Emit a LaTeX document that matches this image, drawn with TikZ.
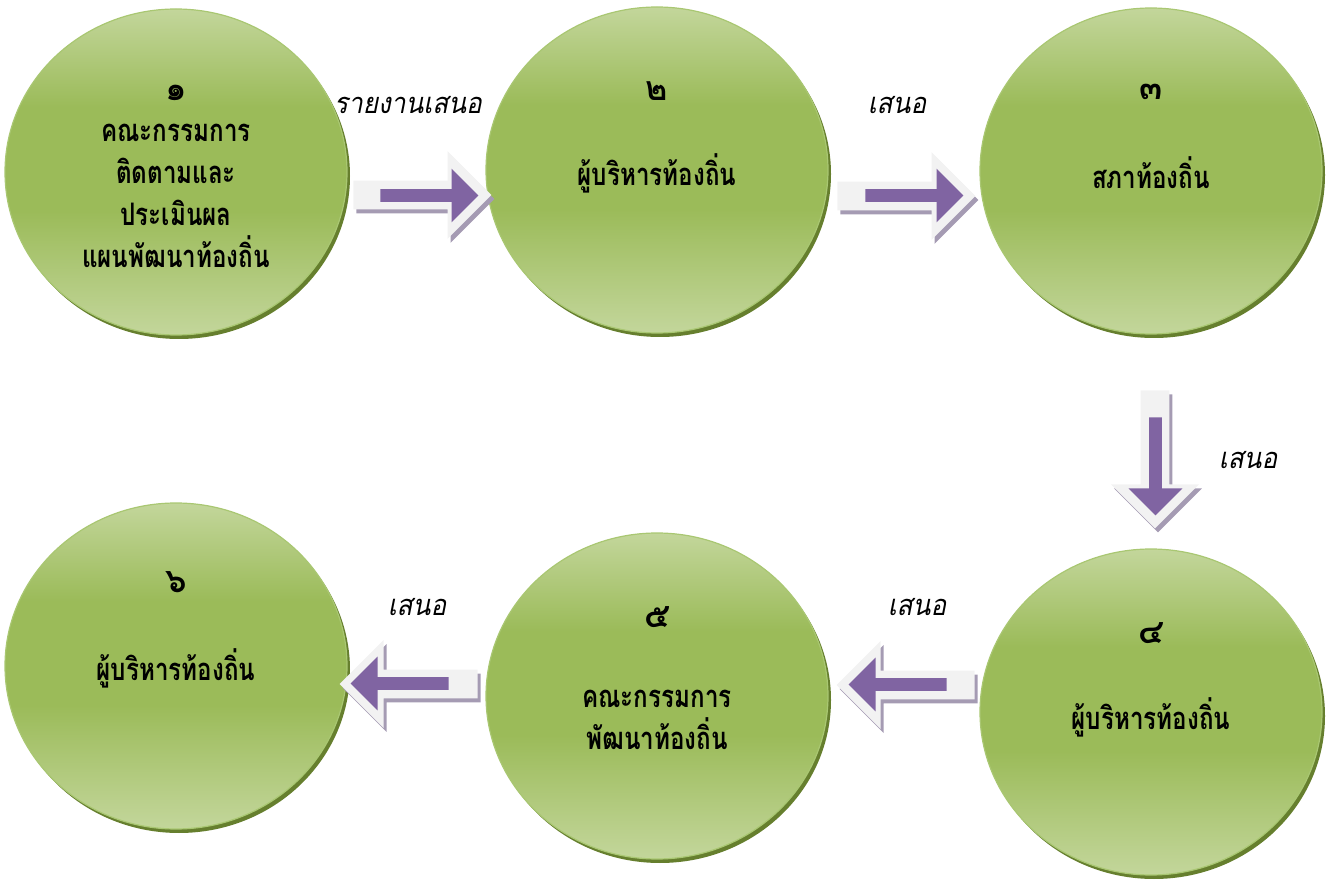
\documentclass[tikz,border=0pt]{standalone}
\usepackage{fontspec}
\newfontfamily\thaifont[Script=Thai]{Loma}
\newfontfamily\thaibody[Script=Thai,FakeStretch=0.78]{Loma}
\newfontfamily\thaislant[Script=Thai,FakeSlant=0.2,FakeStretch=0.9]{Loma}
\usepackage{tikz}
\usetikzlibrary{calc,shapes.geometric,shapes.arrows,shadows}
\definecolor{light_green}{HTML}{C3D69B}
\definecolor{mid_green}{HTML}{9BBB59}
\definecolor{edge_green}{HTML}{A9C772}
\definecolor{dark_green}{HTML}{667F2E}
\definecolor{mid_purple}{HTML}{8064A2}
\definecolor{pale_gray}{HTML}{F2F2F2}
\definecolor{shade_purple}{HTML}{A59BB3}
\pgfdeclareverticalshading{stagegreen}{100bp}{color(0bp)=(light_green); color(25bp)=(light_green); color(44bp)=(mid_green); color(60bp)=(mid_green); color(75bp)=(light_green); color(100bp)=(light_green)}

\begin{document}
\begin{tikzpicture}[x=0.5pt, y=0.5pt,
	stage/.style={ellipse, minimum width=171pt, minimum height=163pt, shading=stagegreen, draw=edge_green, line width=0.6pt, drop shadow={shadow xshift=1.5pt, shadow yshift=-2pt, fill=dark_green, opacity=1}},
	num/.style={font=\thaifont\bfseries\fontsize{17}{19}\selectfont},
	body/.style={font=\thaibody\bfseries\fontsize{15.5}{21}\selectfont, align=center},
	say/.style={font=\thaislant\fontsize{14.5}{16}\selectfont},
	outarrow/.style={single arrow, anchor=tail, fill=pale_gray, minimum height=69pt, minimum width=0pt, inner sep=7pt, single arrow head extend=14.75pt, drop shadow={shadow xshift=1.5pt, shadow yshift=-2pt, fill=shade_purple, opacity=1}},
	inarrow/.style={single arrow, anchor=tail, fill=mid_purple, minimum height=49pt, minimum width=0pt, inner sep=3pt, single arrow head extend=10.25pt}]
	\useasboundingbox (0,0) rectangle (1329,879);
	\node[stage] (c1) at (176,707) {};
	\node[stage] (c2) at (657,709) {};
	\node[stage] (c3) at (1151,708) {};
	\node[stage] (c4) at (1151,167) {};
	\node[stage] (c5) at (657,183) {};
	\node[stage] (c6) at (176,213) {};
	\node[num] (n1) at ([yshift=-42.5pt]c1.north) {๑};
	\node[num] (n2) at ([yshift=-42.5pt]c2.north) {๒};
	\node[num] (n3) at ([yshift=-42.5pt]c3.north) {๓};
	\node[num] (n4) at ([yshift=-42.5pt]c4.north) {๔};
	\node[num] (n5) at ([yshift=-42.5pt]c5.north) {๕};
	\node[num] (n6) at ([yshift=-40pt]c6.north) {๖};
	\node[body] (t1) at ([yshift=-12pt]c1.center) {คณะกรรมการ\\ติดตามและ\\ประเมินผล\\แผนพัฒนาท้องถิ่น};
	\node[body] (t2) at ([yshift=-1.5pt]c2.center) {ผู้บริหารท้องถิ่น};
	\node[body] (t3) at ([yshift=-1pt]c3.center) {สภาท้องถิ่น};
	\node[body] (t4) at ([yshift=-2.5pt]c4.center) {ผู้บริหารท้องถิ่น};
	\node[body] (t5) at ([yshift=-12pt]c5.center) {คณะกรรมการ\\พัฒนาท้องถิ่น};
	\node[body] (t6) at ([yshift=-1pt]c6.center) {ผู้บริหารท้องถิ่น};
	\node[outarrow] (o12) at ($(c1.east)!0.5!(c2.west)+(-63.5,-24)$) {};
	\node[inarrow] (i12) at ($(c1.east)!0.5!(c2.west)+(-36.5,-24.5)$) {};
	\node[outarrow] (o23) at ($(c2.east)!0.5!(c3.west)+(-67,-25.5)$) {};
	\node[inarrow] (i23) at ($(c2.east)!0.5!(c3.west)+(-39,-25)$) {};
	\node[outarrow, shape border rotate=270] (o34) at ($(c3.south)!0.5!(c4.north)+(4,51.5)$) {};
	\node[inarrow, shape border rotate=270] (i34) at ($(c3.south)!0.5!(c4.north)+(4.5,24.5)$) {};
	\node[outarrow, shape border rotate=180] (o45) at ($(c4.west)!0.5!(c5.east)+(71,19)$) {};
	\node[inarrow, shape border rotate=180] (i45) at ($(c4.west)!0.5!(c5.east)+(43,19.5)$) {};
	\node[outarrow, shape border rotate=180] (o56) at ($(c5.west)!0.5!(c6.east)+(61.5,-3)$) {};
	\node[inarrow, shape border rotate=180] (i56) at ($(c5.west)!0.5!(c6.east)+(32.5,-2.5)$) {};
	\node[say] (s12) at (408,774) {รายงานเสนอ};
	\node[say] (s23) at (897,774) {เสนอ};
	\node[say] (s34) at (1248,419) {เสนอ};
	\node[say] (s45) at (917,272) {เสนอ};
	\node[say] (s56) at (417,272) {เสนอ};
\end{tikzpicture}
\end{document}
